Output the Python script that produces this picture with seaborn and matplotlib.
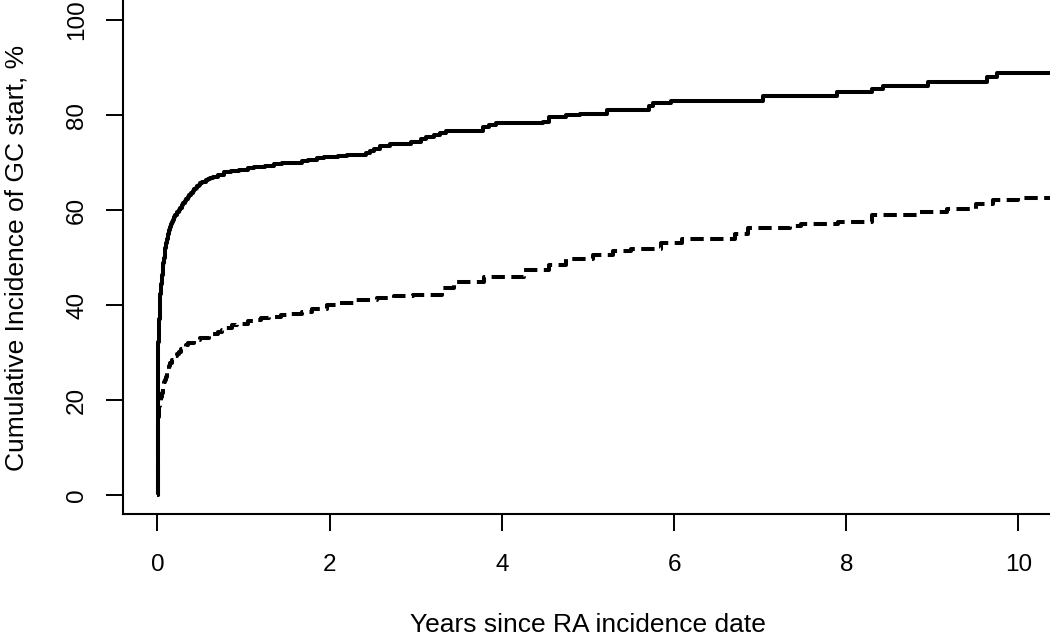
import pandas as pd
import matplotlib
matplotlib.use('Agg')
import matplotlib.pyplot as plt
import seaborn as sns

# cumulative incidence of GC start (%)
solid_years = [0, 0.002, 0.004, 0.006, 0.008, 0.01, 0.0125, 0.015, 0.0175, 0.02,
               0.025, 0.03, 0.035, 0.04, 0.045, 0.05, 0.055, 0.06, 0.065, 0.07,
               0.0775, 0.085, 0.0925, 0.1, 0.11, 0.12, 0.135, 0.145, 0.155, 0.167,
               0.18, 0.195, 0.21, 0.23, 0.25, 0.265, 0.28, 0.3, 0.32, 0.335,
               0.35, 0.37, 0.39, 0.41, 0.43, 0.445, 0.46, 0.48, 0.5, 0.52,
               0.54, 0.565, 0.59, 0.615, 0.64, 0.7, 0.77, 0.85, 0.95, 1.05,
               1.12, 1.25, 1.35, 1.45, 1.58, 1.68, 1.75, 1.85, 1.93, 2.1,
               2.2, 2.42, 2.47, 2.52, 2.59, 2.7, 2.82, 2.95, 3.06, 3.12,
               3.21, 3.28, 3.35, 3.78, 3.85, 3.93, 4.48, 4.55, 4.75, 4.91,
               5.22, 5.71, 5.76, 5.97, 7.03, 7.89, 8.3, 8.43, 8.95, 9.63,
               9.75, 10.4]
solid_pct = [0, 10, 18, 24, 27.5, 30, 32.2, 34, 35.6, 37,
             39.2, 41, 42.3, 43.5, 44.5, 45.5, 46.4, 47.2, 48, 48.8,
             50, 51, 52, 53, 54, 54.9, 55.8, 56.4, 57, 57.5,
             58, 58.5, 59, 59.5, 60, 60.5, 61, 61.5, 62, 62.4,
             62.8, 63.2, 63.6, 64, 64.4, 64.7, 65, 65.3, 65.6, 65.8,
             66, 66.3, 66.5, 66.8, 67, 67.4, 67.9, 68.2, 68.5, 68.8,
             69.1, 69.3, 69.6, 69.8, 70, 70.3, 70.6, 70.9, 71.2, 71.4,
             71.6, 71.9, 72.4, 72.9, 73.5, 73.8, 74.0, 74.4, 74.9, 75.3,
             75.8, 76.3, 76.7, 77.4, 77.9, 78.3, 78.6, 79.5, 79.9, 80.3,
             81.0, 81.8, 82.5, 82.9, 84.1, 84.8, 85.5, 86.2, 86.9, 87.9,
             88.8, 88.8]

dashed_years = [0, 0.005, 0.01, 0.015, 0.02, 0.03, 0.04, 0.05, 0.06, 0.07,
                0.08, 0.09, 0.1, 0.11, 0.125, 0.14, 0.15, 0.175, 0.2, 0.225,
                0.25, 0.275, 0.3, 0.33, 0.36, 0.42, 0.5, 0.6, 0.65, 0.7,
                0.75, 0.8, 0.87, 0.93, 1.05, 1.12, 1.2, 1.3, 1.43, 1.55,
                1.68, 1.8, 1.97, 2.1, 2.28, 2.55, 2.75, 2.97, 3.3, 3.45,
                3.79, 4.26, 4.55, 4.75, 5.06, 5.29, 5.5, 5.85, 6.09, 6.71,
                6.86, 7.35, 7.47, 7.9, 8.3, 8.86, 9.17, 9.51, 9.7, 10.0,
                10.4]
dashed_pct = [0, 10, 16.5, 17.8, 18.8, 19.8, 20.7, 21.4, 22.2, 23,
              23.7, 24.3, 24.9, 25.6, 26.5, 27.2, 27.7, 28.5, 29.2, 29.7,
              30.2, 30.7, 31.2, 31.6, 32, 32.6, 33, 33.6, 34, 34.4,
              34.8, 35.2, 35.7, 36.1, 36.6, 36.9, 37.2, 37.5, 37.9, 38.2,
              38.6, 39.2, 40, 40.5, 41.1, 41.4, 41.8, 42.1, 43.5, 44.9,
              45.8, 47.4, 48.4, 49.7, 50.5, 51.4, 51.8, 53, 53.9, 55,
              56.3, 56.7, 57.1, 57.5, 58.9, 59.5, 60.2, 61.3, 62.1, 62.5,
              62.7]

x_ticks = [0, 2, 4, 6, 8, 10]
y_ticks = [0, 20, 40, 60, 80, 100]

# reset plot configuration
sns.set_theme(style='ticks')
plt.rcParams['font.family'] = ['Liberation Sans', 'DejaVu Sans']

fig = plt.figure(figsize=(10.5, 6.36), dpi=100)
ax = fig.add_axes([0.1171, 0.1918, 0.8857, 0.8066])

solid_df = pd.DataFrame({'years': solid_years, 'pct': solid_pct})
dashed_df = pd.DataFrame({'years': dashed_years, 'pct': dashed_pct})

# draw the two step curves
sns.lineplot(data=solid_df, x='years', y='pct', ax=ax, color='black',
             linewidth=2.9, drawstyle='steps-post', solid_capstyle='butt')
sns.lineplot(data=dashed_df, x='years', y='pct', ax=ax, color='black',
             linewidth=2.9, drawstyle='steps-post',
             linestyle=(0, (3.3, 1.6)), dash_capstyle='butt')

ax.set_xlim(-0.4, 10.4)
ax.set_ylim(-4, 104)
ax.set_xticks(x_ticks)
ax.set_yticks(y_ticks)
ax.set_xticklabels([str(t) for t in x_ticks], fontsize=17.5)
ax.set_yticklabels([str(t) for t in y_ticks], fontsize=17.5,
                   rotation=90, va='center')

ax.tick_params(axis='both', direction='out', length=12, width=1.4,
               color='black', labelcolor='black', bottom=True, left=True)
ax.tick_params(axis='x', pad=16.5)
ax.tick_params(axis='y', pad=13)

for side in ['top', 'right']:
    ax.spines[side].set_visible(False)
for side in ['left', 'bottom']:
    ax.spines[side].set_color('black')
    ax.spines[side].set_linewidth(1.5)

ax.set_xlabel('Years since RA incidence date', fontsize=19, color='black')
ax.set_ylabel('Cumulative Incidence of GC start, %', fontsize=19,
              color='black')
ax.xaxis.set_label_coords(0.5, -0.192)
ax.yaxis.set_label_coords(-0.102, 0.5)
ax.grid(False)

# save the figure
fig.savefig('out.png', dpi=100, facecolor='white')
plt.close(fig)
